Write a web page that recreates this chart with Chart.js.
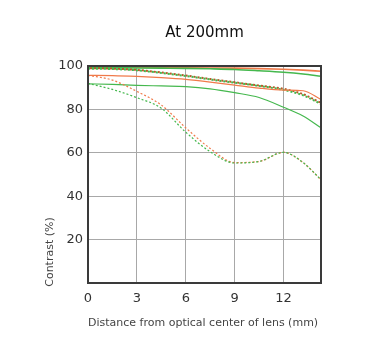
<!DOCTYPE html>
<html>
<head>
<meta charset="utf-8">
<script src="https://cdn.jsdelivr.net/npm/chart.js@4/dist/chart.umd.min.js"></script>
<style>
  html, body { margin: 0; padding: 0; background: #fff; }
  #wrap { width: 392px; height: 352px; }
</style>
</head>
<body>
<div id="wrap"><canvas id="mtf" width="392" height="352"></canvas></div>
<script>
// distance from optical centre (mm)
const distMm = [0, 1.5, 3, 4.5, 6, 7.5, 9, 10.5, 12, 13.2, 14.3];
const yTicks = [20, 40, 60, 80, 100];
const xTicks = [0, 3, 6, 9, 12];

// orange = one aperture, green = the other
const orange10S = [99.5, 99.5, 99.4, 99.3, 99.2, 99.1, 99.0, 98.8, 98.5, 98.1, 97.6];
const green10S  = [99.2, 99.2, 99.1, 99.0, 98.9, 98.7, 98.4, 97.8, 97.1, 96.3, 95.3];
const orange10M = [99.0, 98.8, 98.2, 97.0, 95.6, 94.0, 92.5, 91.0, 89.5, 87.0, 83.0];
const green10M  = [98.8, 98.6, 98.0, 96.8, 95.4, 93.8, 92.3, 90.8, 89.0, 86.5, 82.5];
const orange30S = [95.7, 95.6, 95.2, 94.6, 93.8, 92.6, 91.2, 89.8, 88.9, 88.6, 84.6];
const green30S  = [91.8, 91.5, 91.1, 90.8, 90.5, 89.5, 87.7, 85.5, 81.0, 77.0, 71.5];
const orange30M = [95.7, 93.5, 88.3, 82.0, 71.5, 62.0, 55.5, 56.0, 60.2, 55.5, 47.6];
const green30M  = [92.0, 89.2, 85.4, 80.5, 69.5, 60.5, 55.3, 56.0, 60.2, 55.5, 47.6];

const ORANGE = '#f07a4a';
const GREEN = '#45b84e';

function pts(vals) {
    return distMm.map((x, i) => ({x: x, y: vals[i]}));
}

function line(vals, color, dotted, width, offset) {
    return {
        data: pts(vals),
        borderColor: color,
        borderWidth: width,
        borderDash: dotted ? [2, 2] : [],
        borderDashOffset: offset || 0,
        pointRadius: 0,
        fill: false,
        cubicInterpolationMode: 'monotone'
    };
}

const FONT = "'DejaVu Sans', sans-serif";

// titles + plot frame
const extras = {
    id: 'extras',
    afterDatasetsDraw(chart) {
        const ctx = chart.ctx;
        const a = chart.chartArea;
        ctx.save();
        ctx.strokeStyle = '#3a3a3a';
        ctx.lineWidth = 2;
        ctx.strokeRect(a.left, a.top, a.right - a.left, a.bottom - a.top);
        ctx.restore();
    },
    afterDraw(chart) {
        const ctx = chart.ctx;
        const a = chart.chartArea;
        ctx.save();
        ctx.fillStyle = '#111';
        ctx.textAlign = 'center';
        ctx.textBaseline = 'middle';
        ctx.font = "15px " + FONT;
        ctx.fillText('At 200mm', (a.left + a.right) / 2, 33);

        ctx.fillStyle = '#444';
        ctx.font = "11px " + FONT;
        ctx.textAlign = 'left';
        ctx.fillText('Distance from optical center of lens (mm)', a.left, 323);

        ctx.translate(50, 252);
        ctx.rotate(-Math.PI / 2);
        ctx.textAlign = 'center';
        ctx.fillText('Contrast (%)', 0, 0);
        ctx.restore();
    }
};

new Chart(document.getElementById('mtf').getContext('2d'), {
    type: 'line',
    data: {
        datasets: [
            line(green30M, GREEN, true, 1.2, 0),
            line(orange30M, ORANGE, true, 1.2, 0),
            line(green30S, GREEN, false, 1.2),
            line(orange30S, ORANGE, false, 1.2),
            line(green10M, GREEN, true, 2, 0),
            line(orange10M, '#b85a2a', true, 2, 2),
            line(green10S, GREEN, false, 1.6),
            line(orange10S, ORANGE, false, 1.6)
        ]
    },
    options: {
        responsive: false,
        animation: false,
        layout: { padding: { left: 0, right: 71, top: 66, bottom: 0 } },
        plugins: { legend: { display: false }, tooltip: { enabled: false } },
        scales: {
            x: {
                type: 'linear',
                min: 0,
                max: 14.3,
                afterFit: s => { s.height = 69; },
                afterBuildTicks: s => { s.ticks = xTicks.map(v => ({value: v})); },
                grid: { color: '#a8a8a8', lineWidth: 1, drawTicks: false },
                border: { display: false },
                ticks: { padding: 8, color: '#333', font: { family: FONT, size: 13 } }
            },
            y: {
                min: 0,
                max: 100,
                afterFit: s => { s.width = 88; },
                afterBuildTicks: s => { s.ticks = yTicks.map(v => ({value: v})); },
                grid: { color: '#a8a8a8', lineWidth: 1, drawTicks: false },
                border: { display: false },
                ticks: { padding: 5, color: '#333', font: { family: FONT, size: 13 } }
            }
        }
    },
    plugins: [extras]
});
</script>
</body>
</html>
